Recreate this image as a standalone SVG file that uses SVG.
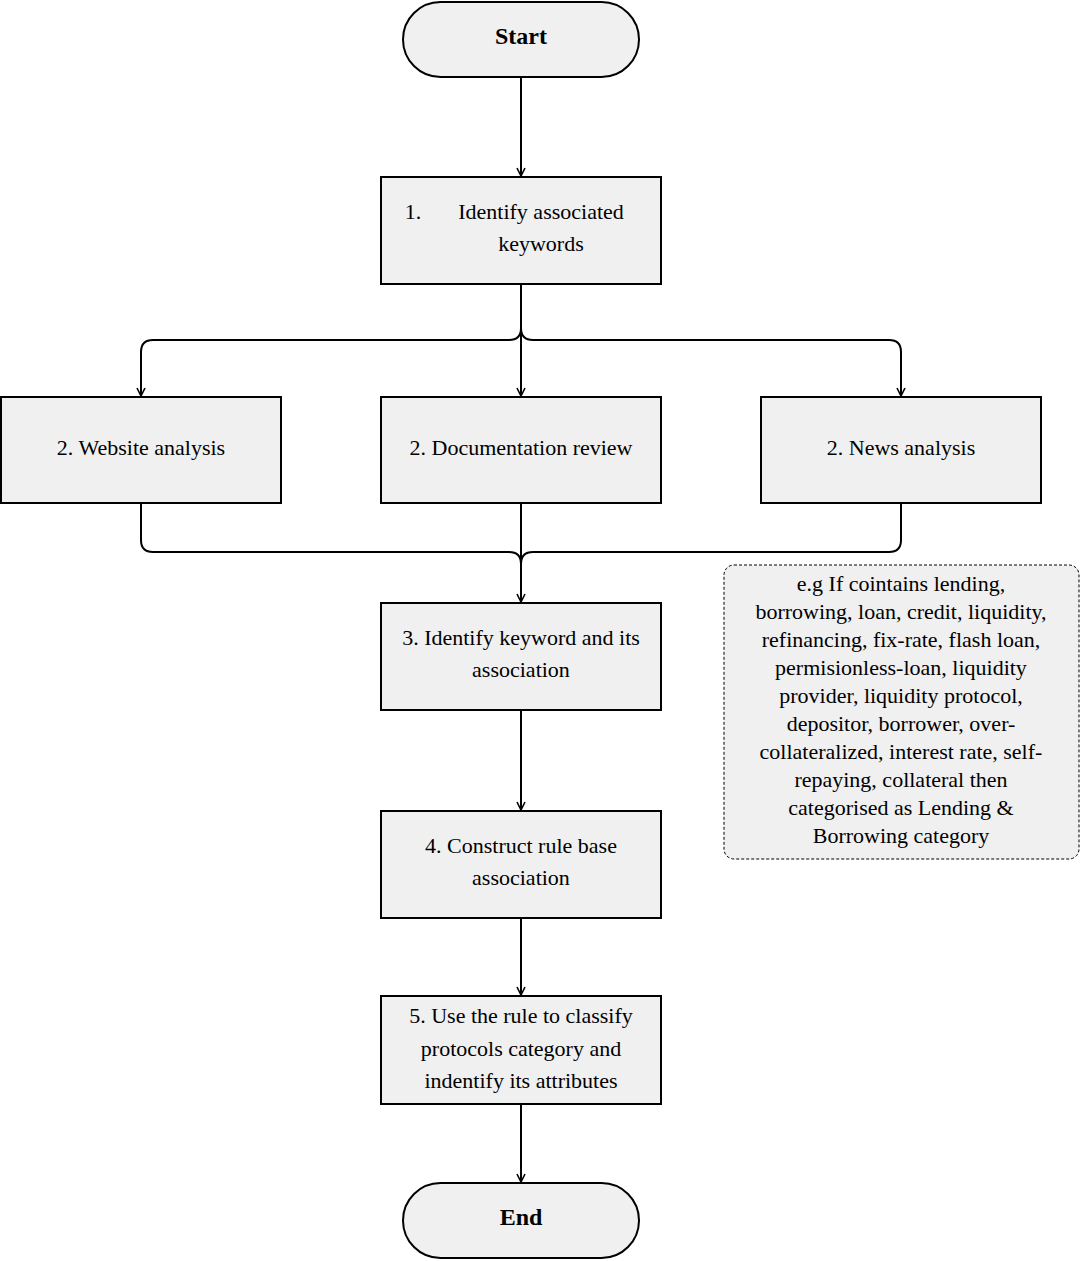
<svg xmlns="http://www.w3.org/2000/svg" width="1080" height="1261" viewBox="0 0 1080 1261">
<defs>
<style>
.n{fill:#f0f0f0;stroke:#000;stroke-width:2}
.t{font-family:"Liberation Serif","Times New Roman",serif;font-size:22px;fill:#000;text-anchor:middle}
.b{font-weight:bold;font-size:24px}
.c{fill:none;stroke:#000;stroke-width:2}
</style>
<marker id="a" viewBox="0 0 10 10" refX="9" refY="5" markerWidth="10" markerHeight="10" markerUnits="userSpaceOnUse" orient="auto"><path d="M1,1 L9,5 L1,9" fill="none" stroke="#000" stroke-width="1.6"/></marker>
</defs>
<rect width="1080" height="1261" fill="#fff"/>
<g id="connectors">
<path class="c" marker-end="url(#a)" d="M521,78 V176"/>
<path class="c" marker-end="url(#a)" d="M521,285 V396"/>
<path class="c" marker-end="url(#a)" d="M521,285 V328 Q521,340 509,340 H153 Q141,340 141,352 V396"/>
<path class="c" marker-end="url(#a)" d="M521,285 V328 Q521,340 533,340 H889 Q901,340 901,352 V396"/>
<path class="c" marker-end="url(#a)" d="M141,504 V540 Q141,552 153,552 H509 Q521,552 521,564 V602"/>
<path class="c" d="M901,504 V540 Q901,552 889,552 H533 Q521,552 521,564"/>
<path class="c" d="M521,504 V602"/>
<path class="c" marker-end="url(#a)" d="M521,711 V810"/>
<path class="c" marker-end="url(#a)" d="M521,919 V995"/>
<path class="c" marker-end="url(#a)" d="M521,1105 V1182"/>
</g>
<g id="start"><rect class="n" x="403" y="2" width="236" height="75" rx="37.5"/><text class="t b" x="521" y="44">Start</text></g>
<g id="s1"><rect class="n" x="381" y="177" width="280" height="107"/><text class="t" x="413" y="219">1.</text><text class="t" x="541" y="219">Identify associated</text><text class="t" x="541" y="251">keywords</text></g>
<g id="s2a"><rect class="n" x="1" y="397" width="280" height="106"/><text class="t" x="141" y="455">2. Website analysis</text></g>
<g id="s2b"><rect class="n" x="381" y="397" width="280" height="106"/><text class="t" x="521" y="455">2. Documentation review</text></g>
<g id="s2c"><rect class="n" x="761" y="397" width="280" height="106"/><text class="t" x="901" y="455">2. News analysis</text></g>
<g id="s3"><rect class="n" x="381" y="603" width="280" height="107"/><text class="t" x="521" y="645">3. Identify keyword and its</text><text class="t" x="521" y="677">association</text></g>
<g id="s4"><rect class="n" x="381" y="811" width="280" height="107"/><text class="t" x="521" y="853">4. Construct rule base</text><text class="t" x="521" y="885">association</text></g>
<g id="s5"><rect class="n" x="381" y="996" width="280" height="108"/><text class="t" x="521" y="1023">5. Use the rule to classify</text><text class="t" x="521" y="1056">protocols category and</text><text class="t" x="521" y="1088">indentify its attributes</text></g>
<g id="end"><rect class="n" x="403" y="1183" width="236" height="75" rx="37.5"/><text class="t b" x="521" y="1225">End</text></g>
<g id="note"><rect x="724" y="565" width="355" height="294" rx="10" fill="#f0f0f0" stroke="#000" stroke-width="1" stroke-dasharray="3,2"/>
<text class="t" x="901" y="591">e.g If cointains lending,</text>
<text class="t" x="901" y="619">borrowing, loan, credit, liquidity,</text>
<text class="t" x="901" y="647">refinancing, fix-rate, flash loan,</text>
<text class="t" x="901" y="675">permisionless-loan, liquidity</text>
<text class="t" x="901" y="703">provider, liquidity protocol,</text>
<text class="t" x="901" y="731">depositor, borrower, over-</text>
<text class="t" x="901" y="759">collateralized, interest rate, self-</text>
<text class="t" x="901" y="787">repaying, collateral then</text>
<text class="t" x="901" y="815">categorised as Lending &amp;</text>
<text class="t" x="901" y="843">Borrowing category</text>
</g>
</svg>
